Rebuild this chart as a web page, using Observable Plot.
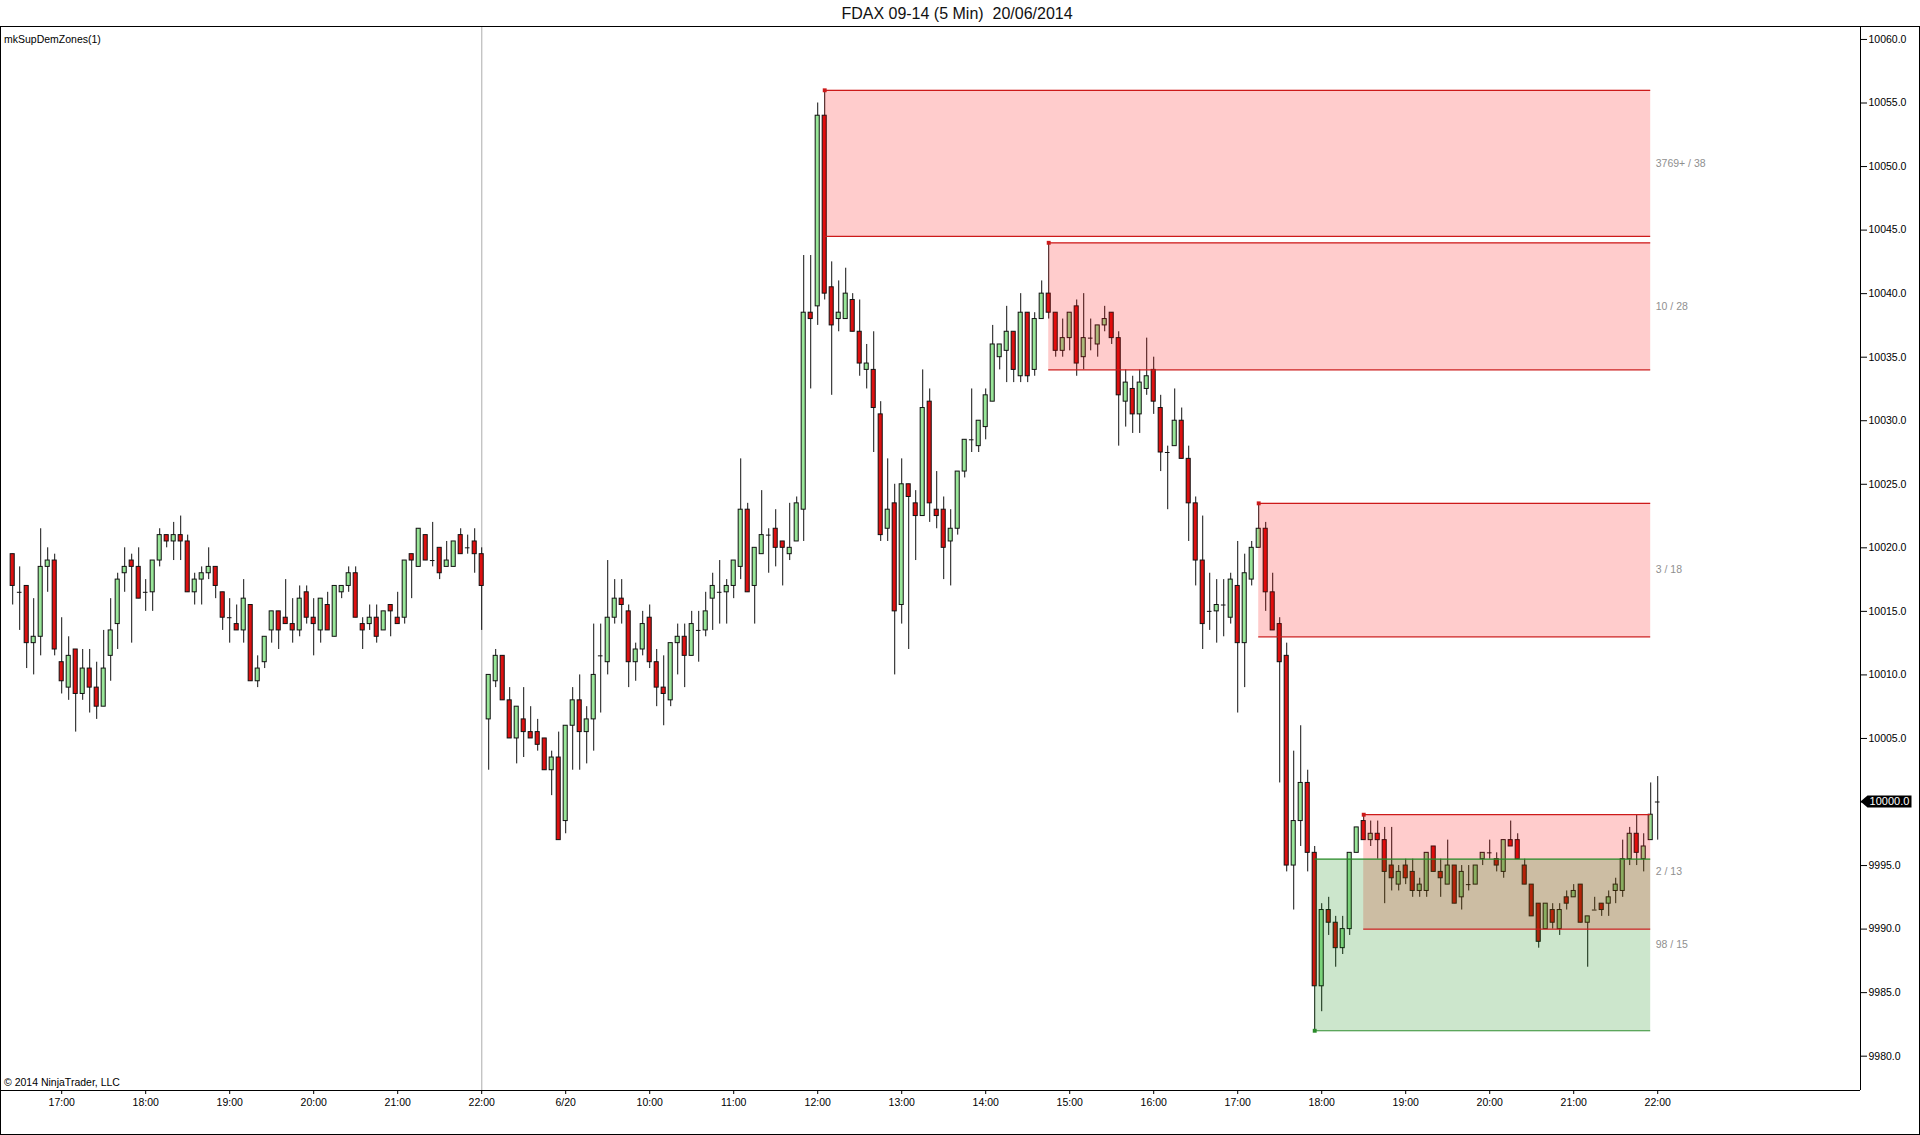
<!DOCTYPE html>
<html>
<head>
<meta charset="utf-8">
<script src="https://cdn.jsdelivr.net/npm/d3@7"></script>
<script src="https://cdn.jsdelivr.net/npm/@observablehq/plot@0.6"></script>
<style>
  html, body { margin: 0; padding: 0; background: #fff; }
  body { width: 1920px; height: 1135px; position: relative; overflow: hidden; font-family: 'Liberation Sans', Arial, sans-serif; }
  #title { position: absolute; left: 0; top: 6px; width: 1914px; text-align: center; font-size: 16px; line-height: 16px; color: #111; }
  #chart { position: absolute; left: 0; top: 26px; }
  #border { position: absolute; left: 0; top: 26px; width: 1920px; height: 1109px; box-sizing: border-box; border: 1px solid #000; pointer-events: none; }
</style>
</head>
<body>
<div id="title">FDAX 09-14 (5 Min)&nbsp; 20/06/2014</div>
<div id="chart"></div>
<div id="border"></div>
<script>
// ---- data (5-minute bars, index 0 = 19/06 16:25 ... index 235 = 20/06 22:00) ----
const opens = [
10019.5,10016.5,10017.0,10012.5,10013.0,10018.5,10019.0,10011.0,10009.0,10012.0,
10008.5,10010.5,10009.0,10007.5,10011.5,10014.0,10018.0,10019.0,10018.5,10016.5,
10016.5,10019.0,10021.0,10020.5,10021.0,10020.5,10016.5,10017.5,10018.0,10018.5,
10016.5,10014.5,10014.0,10013.5,10015.5,10009.5,10011.0,10013.5,10015.0,10014.5,
10014.0,10013.5,10016.5,10014.5,10013.5,10015.5,10013.0,10016.5,10017.0,10018.0,
10014.0,10014.0,10014.5,10013.5,10015.5,10014.5,10014.5,10019.5,10018.5,10021.0,
10019.0,10020.0,10018.5,10018.5,10021.0,10020.0,10020.5,10019.5,10006.5,10009.5,
10011.5,10008.0,10005.0,10006.5,10005.5,10005.5,10005.0,10002.5,10003.5,9998.5,
10006.0,10008.0,10005.5,10006.5,10011.5,10011.0,10014.5,10016.0,10015.0,10011.0,
10012.0,10014.5,10011.0,10009.0,10008.0,10012.5,10013.0,10011.5,10013.5,10013.5,
10016.0,10016.5,10016.5,10017.0,10018.5,10023.0,10017.0,10019.5,10021.0,10021.5,
10020.5,10019.5,10020.5,10023.0,10038.5,10039.0,10054.0,10040.5,10038.0,10038.0,
10039.5,10037.0,10034.0,10034.0,10030.5,10021.5,10023.5,10015.5,10025.0,10023.5,
10022.5,10031.5,10023.0,10023.0,10020.5,10021.5,10026.0,10028.5,10028.0,10029.5,
10031.5,10035.0,10035.5,10037.0,10033.5,10038.5,10034.0,10038.0,10040.0,10038.5,
10035.5,10036.5,10039.0,10035.0,10036.5,10036.0,10037.5,10038.5,10036.5,10031.5,
10032.5,10030.5,10032.5,10034.0,10031.0,10027.5,10028.0,10030.0,10027.0,10023.5,
10019.0,10015.0,10015.0,10015.5,10014.5,10017.0,10012.5,10017.5,10020.0,10021.5,
10016.5,10014.0,10011.5,9995.0,9998.5,10001.5,9996.0,9985.5,9991.5,9990.5,
9988.5,9990.0,9996.0,9998.5,9997.0,9997.5,9997.0,9995.0,9993.5,9995.0,
9994.5,9993.0,9993.0,9996.5,9994.5,9993.5,9995.0,9992.5,9993.5,9993.5,
9995.5,9996.0,9995.5,9994.5,9997.0,9997.0,9995.0,9993.5,9992.0,9990.0,
9991.5,9990.0,9992.5,9992.5,9993.5,9990.5,9991.5,9992.0,9992.0,9993.0,
9993.0,9995.5,9997.5,9995.5,9997.0,10000.0];
const highs = [
10019.5,10018.5,10017.0,10016.0,10021.5,10020.0,10019.5,10014.5,10013.0,10012.0,
10012.0,10012.0,10011.0,10013.5,10016.0,10018.0,10020.0,10019.5,10020.0,10017.5,
10019.0,10021.5,10021.0,10022.0,10022.5,10021.0,10018.0,10018.5,10020.0,10018.5,
10016.5,10016.0,10015.5,10017.5,10015.5,10011.5,10013.0,10015.0,10015.0,10017.5,
10016.0,10017.0,10017.0,10016.0,10016.0,10016.5,10017.0,10017.0,10018.5,10018.5,
10014.5,10015.5,10015.5,10015.0,10015.5,10016.5,10019.0,10019.5,10021.5,10021.0,
10022.0,10020.0,10020.5,10020.5,10021.5,10021.0,10021.5,10020.0,10010.0,10012.0,
10011.5,10009.0,10007.5,10009.0,10007.5,10006.5,10005.0,10004.0,10005.5,10006.0,
10009.0,10010.0,10007.5,10014.0,10014.0,10019.0,10017.5,10017.5,10015.5,10012.5,
10015.0,10015.5,10012.0,10011.5,10012.5,10014.0,10014.0,10015.0,10015.0,10016.5,
10018.0,10019.0,10017.5,10019.0,10027.0,10023.5,10020.0,10024.5,10021.5,10023.0,
10020.5,10023.5,10024.0,10043.0,10043.0,10055.0,10056.0,10042.5,10041.0,10042.0,
10040.0,10039.5,10036.0,10037.0,10031.5,10027.0,10025.0,10027.0,10025.0,10024.5,
10034.0,10032.5,10026.0,10024.0,10023.0,10026.0,10028.5,10032.5,10030.0,10032.5,
10037.5,10036.0,10039.0,10037.0,10040.0,10038.5,10038.5,10041.0,10044.0,10038.5,
10038.0,10038.5,10039.5,10040.0,10038.0,10037.5,10039.0,10038.5,10037.0,10034.0,
10033.5,10034.0,10036.5,10035.0,10032.0,10028.0,10032.5,10031.0,10028.0,10024.0,
10022.5,10018.0,10017.5,10017.5,10018.0,10020.5,10019.5,10020.5,10023.5,10022.0,
10018.0,10014.5,10012.5,10004.0,10006.0,10002.5,9996.5,9992.0,9992.5,9991.0,
9991.0,9996.0,9998.0,9999.0,9998.5,9998.5,9998.0,9998.0,9995.0,9995.5,
9995.5,9994.0,9996.0,9996.5,9995.5,9997.0,9995.0,9995.0,9995.0,9995.0,
9996.0,9997.0,9996.0,9997.0,9998.5,9997.5,9995.5,9993.5,9992.0,9992.0,
9992.0,9992.0,9993.0,9993.5,9993.5,9991.0,9992.5,9992.0,9993.0,9994.0,
9997.0,9998.0,9999.0,9997.5,10001.5,10002.0];
const lows = [
10015.5,10013.5,10010.5,10010.0,10011.5,10016.5,10011.5,10008.5,10008.0,10005.5,
10008.0,10007.0,10006.5,10007.5,10009.5,10012.0,10016.5,10012.5,10016.0,10015.0,
10015.0,10018.5,10020.0,10019.0,10019.0,10016.5,10015.5,10015.5,10017.5,10016.0,
10013.5,10012.5,10013.5,10012.5,10009.5,10009.0,10010.5,10012.5,10012.0,10014.0,
10012.5,10013.0,10014.0,10011.5,10012.5,10013.5,10013.0,10016.0,10016.5,10014.5,
10012.0,10013.5,10012.5,10013.5,10013.0,10014.0,10014.0,10016.0,10018.5,10019.0,
10018.5,10017.5,10018.5,10018.5,10019.5,10019.5,10018.0,10013.5,10002.5,10009.0,
10008.0,10005.0,10003.0,10003.5,10005.0,10004.0,10002.5,10000.5,9997.0,9997.5,
10002.5,10002.5,10003.0,10004.0,10007.0,10010.0,10014.0,10014.0,10009.0,10009.5,
10011.5,10010.5,10007.5,10006.0,10007.5,10010.0,10009.0,10011.5,10011.0,10013.0,
10013.5,10014.0,10014.0,10016.0,10017.5,10016.5,10014.0,10019.5,10018.0,10018.5,
10017.0,10019.0,10020.5,10020.5,10032.5,10037.5,10039.5,10032.0,10037.0,10038.0,
10037.0,10033.5,10032.5,10027.5,10020.5,10020.5,10010.0,10014.0,10012.0,10019.0,
10022.5,10022.0,10021.5,10017.5,10017.0,10021.0,10025.5,10027.5,10027.5,10028.5,
10031.5,10034.0,10033.0,10033.0,10033.0,10033.0,10033.5,10038.0,10038.0,10035.0,
10035.0,10035.5,10033.5,10034.0,10035.5,10035.0,10037.0,10036.0,10028.0,10029.5,
10029.0,10029.0,10032.0,10030.5,10026.0,10023.0,10028.0,10027.0,10020.5,10017.0,
10012.0,10013.5,10012.5,10013.0,10014.0,10007.0,10009.0,10017.0,10020.0,10015.0,
10013.5,10001.5,9994.5,9991.5,9996.5,9994.5,9982.0,9983.5,9989.5,9987.0,
9988.0,9989.5,9996.0,9997.0,9996.5,9995.5,9992.0,9993.0,9993.0,9993.5,
9992.5,9992.5,9992.5,9994.5,9992.5,9993.5,9992.0,9991.5,9993.0,9993.5,
9995.0,9995.5,9994.5,9994.0,9996.5,9995.5,9993.5,9991.0,9988.5,9990.0,
9990.0,9989.5,9991.5,9992.5,9990.5,9987.0,9991.5,9991.0,9991.0,9992.0,
9992.5,9995.0,9995.0,9994.5,9997.0,9997.0];
const closes = [
10017.0,10016.5,10012.5,10013.0,10018.5,10019.0,10012.0,10009.5,10011.5,10008.5,
10010.5,10009.0,10007.5,10010.5,10013.5,10017.5,10018.5,10018.5,10016.0,10016.5,
10019.0,10021.0,10020.5,10021.0,10020.5,10016.5,10017.5,10018.0,10018.5,10017.0,
10014.5,10014.5,10013.5,10016.0,10009.5,10010.5,10013.0,10015.0,10013.5,10014.0,
10013.5,10016.0,10014.5,10014.0,10016.0,10013.5,10017.0,10017.0,10018.0,10014.5,
10013.5,10014.5,10013.0,10015.0,10015.0,10014.0,10019.0,10019.0,10021.5,10019.0,
10019.0,10018.0,10019.0,10020.5,10019.5,10020.0,10019.5,10017.0,10010.0,10011.5,
10008.0,10005.0,10007.5,10005.5,10005.0,10004.5,10002.5,10003.5,9997.0,10006.0,
10008.0,10005.5,10006.5,10010.0,10011.5,10014.5,10016.0,10015.5,10011.0,10012.0,
10014.0,10011.0,10009.0,10008.5,10012.5,10013.0,10011.5,10014.0,10013.5,10015.0,
10017.0,10016.5,10017.0,10019.0,10023.0,10016.5,10020.0,10021.0,10021.0,10020.0,
10020.0,10020.0,10023.5,10038.5,10038.0,10054.0,10040.0,10037.5,10038.5,10040.0,
10037.0,10034.5,10034.5,10031.0,10021.0,10023.0,10015.0,10025.0,10024.0,10022.5,
10031.0,10023.5,10022.5,10020.0,10021.5,10026.0,10028.5,10028.5,10030.0,10032.0,
10036.0,10036.0,10037.0,10034.0,10038.5,10033.5,10038.0,10040.0,10038.5,10035.5,
10036.5,10038.5,10034.5,10036.5,10036.5,10037.5,10038.0,10036.5,10032.0,10033.0,
10030.5,10033.0,10033.5,10031.5,10027.5,10027.5,10030.0,10027.0,10023.5,10019.0,
10014.0,10015.0,10015.5,10015.5,10017.5,10012.5,10018.0,10020.0,10021.5,10016.5,
10013.5,10011.0,9995.0,9998.5,10001.5,9996.0,9985.5,9991.5,9990.5,9988.5,
9990.0,9996.0,9998.0,9997.0,9997.5,9997.0,9994.5,9994.0,9994.5,9994.0,
9993.0,9993.5,9996.0,9994.5,9994.0,9995.0,9992.0,9994.5,9993.5,9995.0,
9996.0,9996.0,9995.0,9997.0,9996.5,9995.5,9993.5,9991.0,9989.0,9992.0,
9990.5,9991.5,9992.0,9993.0,9990.5,9991.0,9991.5,9991.5,9992.5,9993.5,
9995.5,9997.5,9996.0,9996.5,9999.0,10000.0];

// time-axis ticks (bar index -> label)
const tickBars   = [7,19,31,43,55,67,79,91,103,115,127,139,151,163,175,187,199,211,223,235];
const tickLabels = ["17:00","18:00","19:00","20:00","21:00","22:00","6/20","10:00","11:00","12:00",
                    "13:00","14:00","15:00","16:00","17:00","18:00","19:00","20:00","21:00","22:00"];
const sessionBreakBar = 67;

// price-axis ticks
const priceTicks = [9980,9985,9990,9995,10000,10005,10010,10015,10020,10025,10030,10035,10040,10045,10050,10055,10060];

// supply / demand zones
const zoneStart  = [116, 148, 178, 186, 193];
const zoneTop    = [10056.0, 10044.0, 10023.5, 9995.5, 9999.0];
const zoneBottom = [10044.5, 10034.0, 10013.0, 9982.0, 9990.0];
const zoneKind   = ["supply", "supply", "supply", "demand", "supply"];
const zoneLabel  = ["3769+ / 38", "10 / 28", "3 / 18", "98 / 15", "2 / 13"];
const zoneEndBar = 234;

// ---- build tables ----
const bars = opens.map((o, i) => ({i, o, h: highs[i], l: lows[i], c: closes[i]}));
const up = bars.filter(d => d.c > d.o);
const down = bars.filter(d => d.c < d.o);
const doji = bars.filter(d => d.c === d.o);
const zones = zoneStart.map((s, k) => ({start: s, top: zoneTop[k], bottom: zoneBottom[k], kind: zoneKind[k], label: zoneLabel[k]}));
const demand = zones.filter(z => z.kind === "demand");
const supply = zones.filter(z => z.kind === "supply");
const labelMap = new Map(tickBars.map((b, k) => [b, tickLabels[k]]));
const lastClose = closes[closes.length - 1];

const UP = "#98e698", DOWN = "#dd1010", OUT = "#111";
const RED = "#cc1a1a", GREEN = "#2a8a2a";
const hw = 0.29;

const xDomain = [-1.6, 263.97];
const yDomain = [9977.30, 10061.02];

const priceMarker = (index, scales, values, dimensions) => {
  const y = scales.y(lastClose);
  const x0 = dimensions.width - dimensions.marginRight + 0.5;
  const g = d3.create("svg:g");
  g.append("path")
    .attr("d", `M${x0},${y}L${x0 + 7},${y - 6}H${x0 + 51}V${y + 6}H${x0 + 7}Z`)
    .attr("fill", "#000");
  g.append("text")
    .attr("x", x0 + 29).attr("y", y).attr("dy", "0.35em")
    .attr("text-anchor", "middle").attr("fill", "#fff").attr("font-size", 11)
    .text(lastClose.toFixed(1));
  return g.node();
};

const chart = Plot.plot({
  width: 1920,
  height: 1109,
  marginTop: 0,
  marginLeft: 1,
  marginRight: 60,
  marginBottom: 45,
  style: {fontFamily: "'Liberation Sans', Arial, sans-serif", fontSize: "11px", background: "transparent", color: "#000"},
  x: {type: "linear", domain: xDomain},
  y: {type: "linear", domain: yDomain},
  marks: [
    // session break
    Plot.ruleX([sessionBreakBar], {stroke: "#c4c4c4", strokeWidth: 1.4}),
    // wicks
    Plot.ruleX(bars, {x: "i", y1: "l", y2: "h", stroke: OUT, strokeWidth: 1}),
    // bodies
    Plot.rect(up, {x1: d => d.i - hw, x2: d => d.i + hw, y1: "o", y2: "c", fill: UP, stroke: OUT, strokeWidth: 1}),
    Plot.rect(down, {x1: d => d.i - hw, x2: d => d.i + hw, y1: "o", y2: "c", fill: DOWN, stroke: OUT, strokeWidth: 1}),
    Plot.ruleY(doji, {x1: d => d.i - 0.33, x2: d => d.i + 0.33, y: "o", stroke: OUT, strokeWidth: 1}),
    // zones (semi-transparent, over the candles)
    Plot.rect(supply, {x1: "start", x2: () => zoneEndBar, y1: "bottom", y2: "top", fill: "#ff0000", fillOpacity: 0.2}),
    Plot.rect(demand, {x1: "start", x2: () => zoneEndBar, y1: "bottom", y2: "top", fill: "#008000", fillOpacity: 0.2}),
    Plot.ruleY(demand, {x1: "start", x2: () => zoneEndBar, y: "top", stroke: GREEN, strokeWidth: 1.2}),
    Plot.ruleY(demand, {x1: "start", x2: () => zoneEndBar, y: "bottom", stroke: GREEN, strokeWidth: 1.2}),
    Plot.ruleY(supply, {x1: "start", x2: () => zoneEndBar, y: "top", stroke: RED, strokeWidth: 1.2}),
    Plot.ruleY(supply, {x1: "start", x2: () => zoneEndBar, y: "bottom", stroke: RED, strokeWidth: 1.2}),
    Plot.dot(supply, {x: "start", y: "top", symbol: "square", r: 2.2, fill: RED}),
    Plot.dot(demand, {x: "start", y: "bottom", symbol: "square", r: 2.2, fill: GREEN}),
    Plot.text(zones, {x: () => zoneEndBar, y: d => (d.top + d.bottom) / 2, text: "label", dx: 5, textAnchor: "start", fill: "#8f8f8f", fontSize: 10.5}),
    // axis lines
    Plot.ruleX([xDomain[1]], {stroke: "#000", strokeWidth: 1}),
    Plot.ruleY([yDomain[0]], {stroke: "#000", strokeWidth: 1}),
    // axes
    Plot.axisY({anchor: "right", ticks: priceTicks, tickFormat: d => d.toFixed(1), tickSize: 6, tickPadding: 2, fontSize: 10.5, label: null}),
    Plot.axisX({anchor: "bottom", ticks: tickBars, tickFormat: d => labelMap.get(d), tickSize: 4, tickPadding: 4, fontSize: 10.5, label: null}),
    // texts
    Plot.text(["mkSupDemZones(1)"], {frameAnchor: "top-left", dx: 2.5, dy: 13, lineAnchor: "middle", textAnchor: "start", fontSize: 10.5, fill: "#000"}),
    Plot.text(["© 2014 NinjaTrader, LLC"], {frameAnchor: "bottom-left", dx: 2.5, dy: -7.5, lineAnchor: "middle", textAnchor: "start", fontSize: 10.5, fill: "#000"}),
    // last price marker
    priceMarker
  ]
});
document.getElementById("chart").appendChild(chart);
</script>
</body>
</html>
